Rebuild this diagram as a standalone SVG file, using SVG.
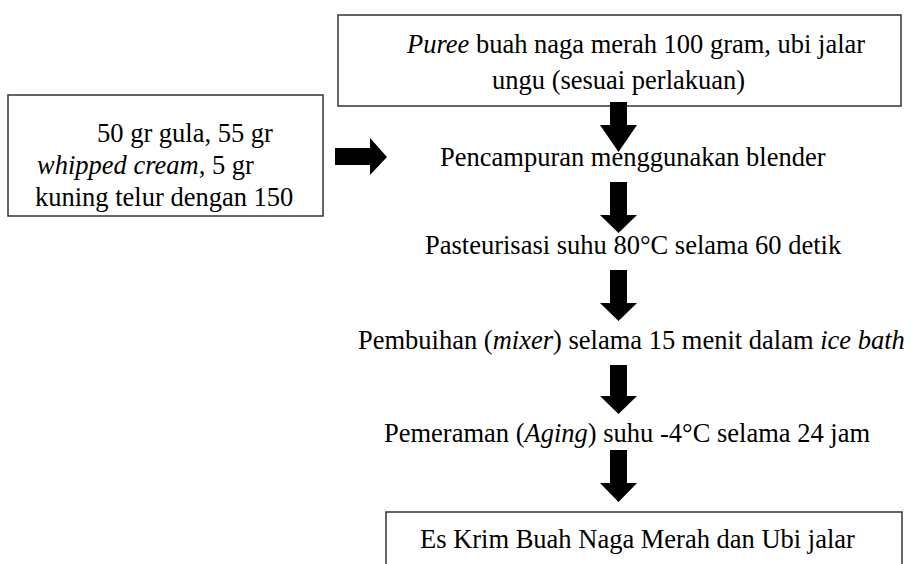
<svg xmlns="http://www.w3.org/2000/svg" width="911" height="564" viewBox="0 0 911 564">
<style>
  text { font-family: "Liberation Serif", "Times New Roman", serif; font-size: 26.5px; fill: #000; }
  .it { font-style: italic; }
  .box { fill: #fff; stroke: #333; stroke-width: 1.5; }
  .arrow { fill: #000; stroke: none; }
</style>
<defs>
  <clipPath id="clipLeft"><rect x="8" y="95" width="315" height="119"/></clipPath>
</defs>
<rect width="911" height="564" fill="#fff"/>
<g id="node-puree">
  <rect class="box" x="338" y="15" width="563" height="91"/>
  <text x="407" y="53"><tspan class="it">Puree</tspan> buah naga merah 100 gram, ubi jalar</text>
  <text x="492" y="89">ungu (sesuai perlakuan)</text>
</g>
<g id="node-bahan">
  <rect class="box" x="8" y="95" width="315" height="121"/>
  <g clip-path="url(#clipLeft)">
    <text x="97" y="142">50 gr gula, 55 gr</text>
    <text x="37" y="174"><tspan class="it">whipped cream</tspan>, 5 gr</text>
    <text x="35" y="206">kuning telur dengan 150</text>
  </g>
</g>
<g id="node-pencampuran">
  <text x="440" y="166">Pencampuran menggunakan blender</text>
</g>
<g id="node-pasteurisasi">
  <text x="425" y="254">Pasteurisasi suhu 80°C selama 60 detik</text>
</g>
<g id="node-pembuihan">
  <text x="358" y="349">Pembuihan (<tspan class="it">mixer</tspan>) selama 15 menit dalam <tspan class="it">ice bath</tspan></text>
</g>
<g id="node-pemeraman">
  <text x="384" y="442">Pemeraman (<tspan class="it">Aging</tspan>) suhu -4°C selama 24 jam</text>
</g>
<g id="node-eskrim">
  <rect class="box" x="386" y="512" width="516" height="80"/>
  <text x="420" y="548">Es Krim Buah Naga Merah dan Ubi jalar</text>
</g>
<g id="connectors">
  <polygon class="arrow" points="335,148 370,148 370,138 387,157 370,175 370,165 335,165"/>
  <polygon class="arrow" points="610,102 627,102 627,125 637,125 618.5,152 600,125 610,125"/>
  <polygon class="arrow" points="610,182 627,182 627,215 637,215 618.5,233 600,215 610,215"/>
  <polygon class="arrow" points="610,270 627,270 627,303 637,303 618.5,321 600,303 610,303"/>
  <polygon class="arrow" points="610,365 627,365 627,396 637,396 618.5,414 600,396 610,396"/>
  <polygon class="arrow" points="610,450 627,450 627,483 637,483 618.5,502 600,483 610,483"/>
</g>
</svg>
